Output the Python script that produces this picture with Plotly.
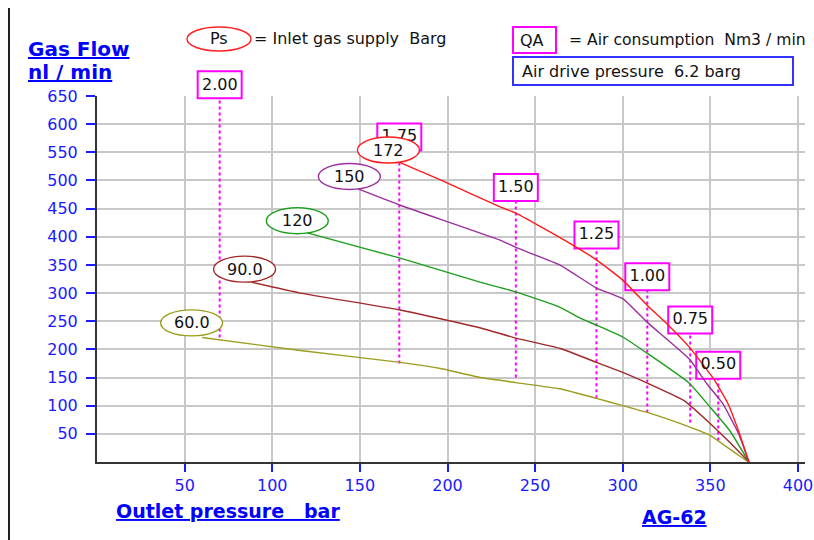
import plotly.graph_objects as go

# ---------------- data ----------------
# Outlet pressure (bar) vs gas flow (nl/min) for each inlet supply pressure Ps
ps_labels = ["60.0", "90.0", "120", "150", "172"]

p_60 = [60, 116, 173, 196, 219, 239, 264, 285, 300, 314, 333, 350, 366, 372]
q_60 = [221, 198, 177, 166, 150, 141, 130, 113, 100, 88, 68, 47, 12, 0]

p_90 = [88.5, 116, 173, 219, 239, 264, 285, 300, 314, 335, 350, 361, 372]
q_90 = [319, 300, 270, 238, 220, 202, 177, 159, 140, 109, 68, 35, 0]

p_120 = [120, 173, 219, 239, 264, 276, 285, 300, 314, 338, 350, 361, 372]
q_120 = [407, 362, 319, 302, 275, 255, 243, 222, 193, 140, 97, 56, 0]

p_150 = [149, 173, 230, 239, 264, 285, 300, 314, 338, 348, 357, 366, 372]
q_150 = [485, 456, 394, 381, 350, 309, 290, 248, 183, 139, 104, 51, 0]

p_172 = [172, 196, 230, 239, 264, 285, 300, 314, 326, 338, 352, 360, 366, 372]
q_172 = [533, 501, 453, 442, 399, 359, 323, 278, 243, 204, 147, 104, 56, 0]

# Air consumption QA markers (Nm3/min): outlet pressure and lowest flow of the dashed line
qa_labels = ["2.00", "1.75", "1.50", "1.25", "1.00", "0.75", "0.50"]
qa_pressure = [70, 172.5, 239, 285, 314, 338.5, 354.5]
qa_flow_low = [221, 175, 150, 113, 88, 70, 38]

x_ticks = [50, 100, 150, 200, 250, 300, 350, 400]
y_ticks = [50, 100, 150, 200, 250, 300, 350, 400, 450, 500, 550, 600, 650]

# ---------------- layout positions / styles ----------------
curve_colors = ["#9c9c1e", "#a02828", "#1e9e1e", "#9b309f", "#ff1a1a"]
ps_label_x = [54, 84.2, 114.3, 144, 166.3]
ps_label_y = [247, 342.5, 428.5, 507, 554]
qa_box_y = [670, 577, 487.5, 403, 329, 252, 172]

X_RANGE = [0, 404]
Y_RANGE = [0, 650]
L, T, W, H = 97, 96, 708, 366
FIG_W, FIG_H = 814, 540

ELL_HW, ELL_HH = 31 / (W / X_RANGE[1]), 13 / (H / Y_RANGE[1])
BOX_HW, BOX_HH = 22 / (W / X_RANGE[1]), 13.5 / (H / Y_RANGE[1])

MAG = "#ff00ff"
BLUE = "#1a1aff"
FONT = "DejaVu Sans"


def pxx(px):
    return (px - L) / W


def pxy(py):
    return (T + H - py) / H


fig = go.Figure()

# dashed QA lines
for xq, lo, yb in zip(qa_pressure, qa_flow_low, qa_box_y):
    fig.add_trace(go.Scatter(
        x=[xq, xq], y=[lo, yb - BOX_HH], mode="lines",
        line=dict(color=MAG, width=2, dash="3px,3px"),
        hoverinfo="skip", showlegend=False))

# performance curves
curves = [(p_60, q_60), (p_90, q_90), (p_120, q_120), (p_150, q_150), (p_172, q_172)]
for (xs, ys), col, lab in zip(curves, curve_colors, ps_labels):
    fig.add_trace(go.Scatter(x=xs, y=ys, mode="lines", name=lab,
                             line=dict(color=col, width=1.4, shape="spline", smoothing=0.4),
                             showlegend=False))

# QA box labels inside the plot (text trace, under the ellipses)
in_x = [x for x, y in zip(qa_pressure, qa_box_y) if y <= Y_RANGE[1]]
in_y = [y for y in qa_box_y if y <= Y_RANGE[1]]
in_t = [t for t, y in zip(qa_labels, qa_box_y) if y <= Y_RANGE[1]]
fig.add_trace(go.Scatter(
    x=in_x, y=in_y, mode="text", text=in_t,
    textposition="middle center", cliponaxis=False,
    textfont=dict(family=FONT, size=16, color="#111"),
    hoverinfo="skip", showlegend=False))

shapes = []
annotations = []
# QA boxes
for xq, yb, lab in zip(qa_pressure, qa_box_y, qa_labels):
    if yb + BOX_HH > Y_RANGE[1]:
        shapes.append(dict(type="rect", xref="x", yref="paper",
                           x0=xq - BOX_HW, x1=xq + BOX_HW,
                           y0=(yb - BOX_HH) / Y_RANGE[1], y1=(yb + BOX_HH) / Y_RANGE[1],
                           line=dict(color=MAG, width=2), fillcolor="white", layer="below"))
        annotations.append(dict(x=xq, y=yb / Y_RANGE[1], xref="x", yref="paper", text=lab,
                                xanchor="center", yanchor="middle",
                                showarrow=False, font=dict(family=FONT, size=16, color="#111")))
    else:
        shapes.append(dict(type="rect", xref="x", yref="y",
                           x0=xq - BOX_HW, x1=xq + BOX_HW, y0=yb - BOX_HH, y1=yb + BOX_HH,
                           line=dict(color=MAG, width=2), fillcolor="white", layer="between"))

# Ps ellipses
for xc, yc, col in zip(ps_label_x, ps_label_y, curve_colors):
    shapes.append(dict(type="circle", xref="x", yref="y",
                       x0=xc - ELL_HW, x1=xc + ELL_HW, y0=yc - ELL_HH, y1=yc + ELL_HH,
                       line=dict(color=col, width=1.4), fillcolor="white", layer="above"))

# legend decorations (paper coordinates)
shapes.append(dict(type="circle", xref="paper", yref="paper",
                   x0=pxx(187), x1=pxx(251), y0=pxy(51), y1=pxy(27),
                   line=dict(color="#ff2020", width=1.4)))
shapes.append(dict(type="rect", xref="paper", yref="paper",
                   x0=pxx(513), x1=pxx(556), y0=pxy(53), y1=pxy(27),
                   line=dict(color=MAG, width=2)))
shapes.append(dict(type="rect", xref="paper", yref="paper",
                   x0=pxx(513), x1=pxx(793), y0=pxy(85), y1=pxy(57),
                   line=dict(color="#3333ff", width=2)))
# left frame line
shapes.append(dict(type="line", xref="paper", yref="paper",
                   x0=pxx(9), x1=pxx(9), y0=pxy(8), y1=pxy(540),
                   line=dict(color="#222", width=2)))

for xc, yc, lab in zip(ps_label_x, ps_label_y, ps_labels):
    annotations.append(dict(x=xc, y=yc, xref="x", yref="y", text=lab, showarrow=False,
                            font=dict(family=FONT, size=16, color="#111")))


def ptext(txt, px, py, size=16, color="#111", anchor="left", bold=False):
    return dict(x=pxx(px), y=pxy(py), xref="paper", yref="paper", text=txt,
                showarrow=False, xanchor=anchor, yanchor="middle",
                font=dict(family=FONT + (" Bold" if bold else ""), size=size, color=color))


NB = "\u00a0"
annotations += [
    ptext("Ps", 219, 39, anchor="center"),
    ptext("= Inlet gas supply" + NB * 2 + "Barg", 252, 39),
    ptext("QA", 518, 40),
    ptext("= Air consumption" + NB * 2 + "Nm3 / min", 567, 40, size=15.6),
    ptext("Air drive pressure" + NB * 2 + "6.2 barg", 520, 71),
    ptext("<b><u>Gas Flow</u></b>", 26, 49, size=20, color="#0000ff"),
    ptext("<b><u>nl / min</u></b>", 26, 72, size=20, color="#0000ff"),
    ptext("<b><u>Outlet pressure" + NB * 3 + "bar</u></b>", 114, 511, size=19, color="#0000ff"),
    ptext("<b><u>AG-62</u></b>", 640, 517, size=19, color="#0000ff"),
]

axis_common = dict(
    showgrid=True, gridcolor="#c8c8c8", gridwidth=1.5, zeroline=False,
    showline=True, linecolor="#333", linewidth=2,
    ticks="outside", tickcolor=BLUE, tickwidth=2,
    tickfont=dict(family=FONT, size=16, color=BLUE),
    fixedrange=True,
)

fig.update_layout(
    width=FIG_W, height=FIG_H,
    margin=dict(l=L, r=FIG_W - L - W, t=T, b=FIG_H - T - H, autoexpand=False),
    paper_bgcolor="white", plot_bgcolor="white",
    xaxis=dict(range=X_RANGE, tickvals=x_ticks, ticklen=8, **axis_common),
    yaxis=dict(range=Y_RANGE, tickvals=y_ticks, ticklen=9, ticklabelstandoff=5, **axis_common),
    shapes=shapes, annotations=annotations,
    showlegend=False,
)

fig.write_html("out.html", config={"displayModeBar": False},
               post_script="document.body.style.margin='0';document.body.style.overflow='hidden';")
